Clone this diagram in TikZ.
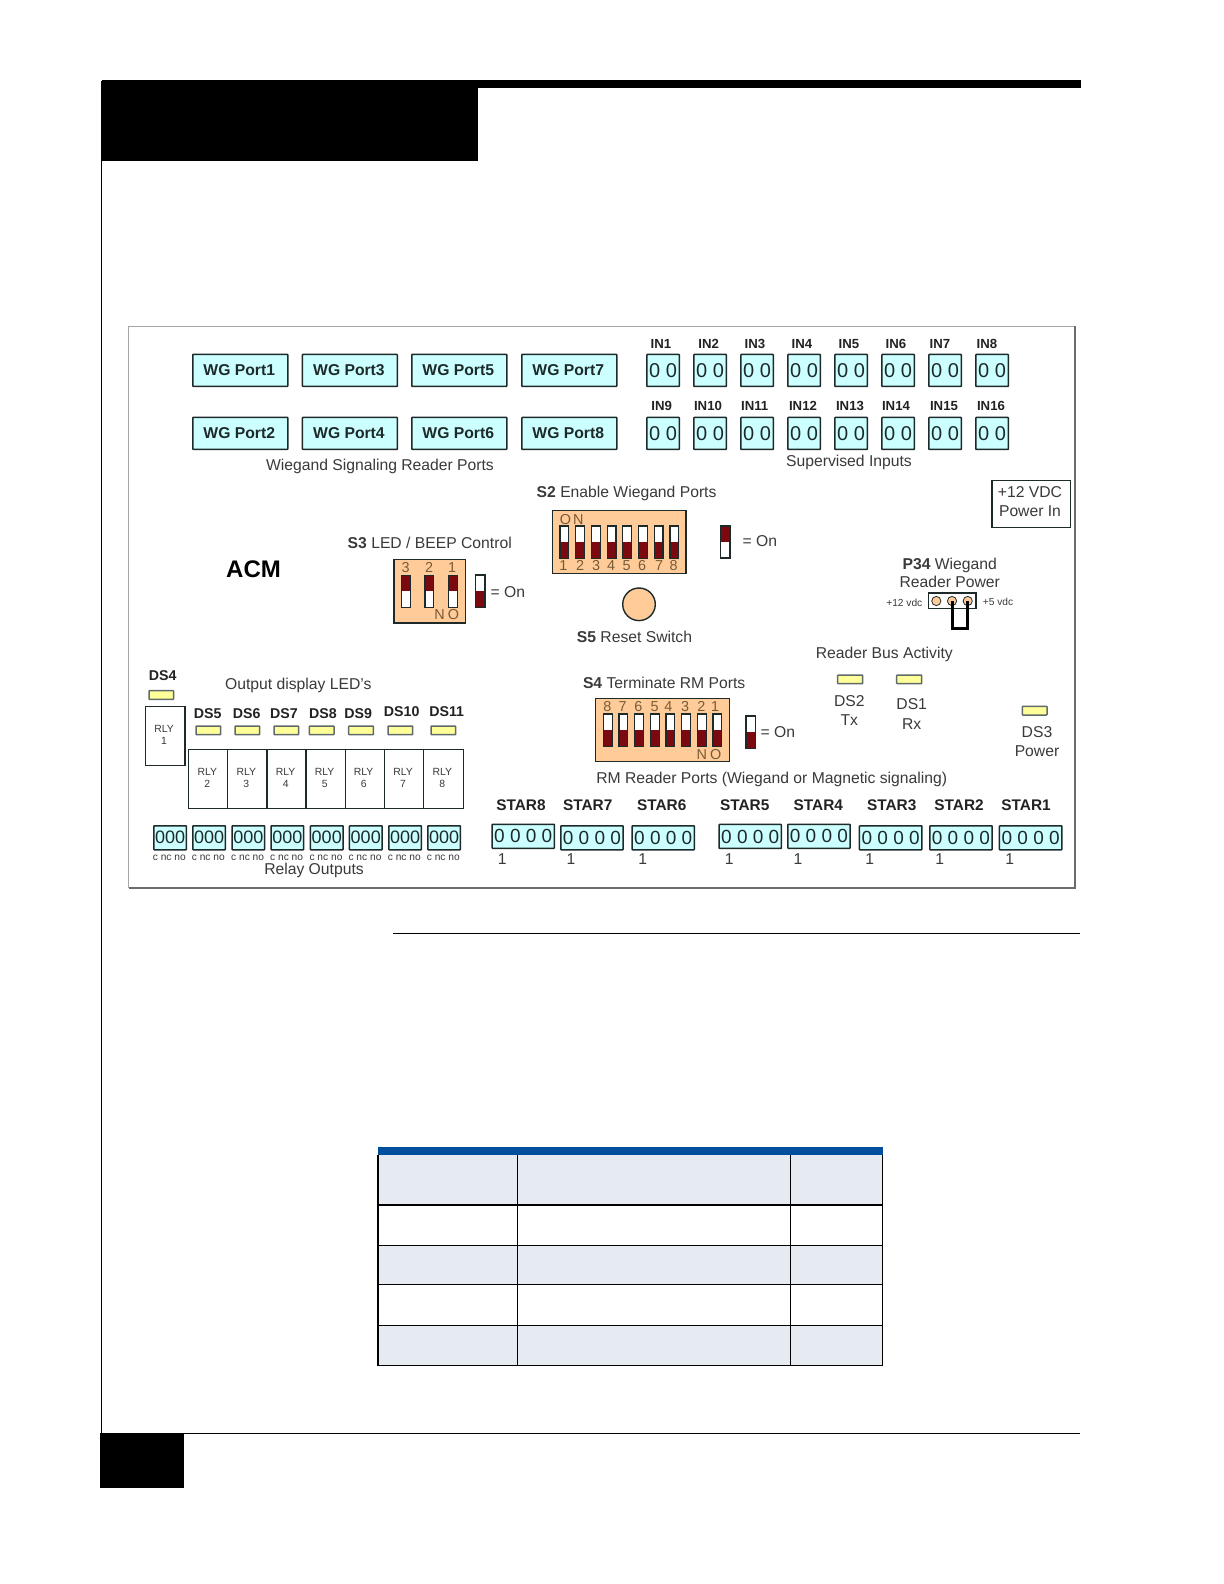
\documentclass[tikz,border=0pt]{standalone}
\usepackage{fontspec}
\setmainfont{Liberation Sans}
\definecolor{cyanbox}{HTML}{CCFFFF}
\definecolor{orangebox}{HTML}{FFCC99}
\definecolor{darkred}{HTML}{7A0A10}
\definecolor{ledfill}{HTML}{FFFF99}
\definecolor{inktxt}{HTML}{3A3A3A}
\definecolor{boldtxt}{HTML}{222222}
\definecolor{numtxt}{HTML}{7A5A35}
\definecolor{edge}{HTML}{1E2A2A}
\definecolor{tblblue}{HTML}{004F9F}
\definecolor{tbllight}{HTML}{E6EBF2}
\newcommand{\fs}[1]{\fontsize{#1}{#1}\selectfont}
\tikzset{
  x=0.5pt,y=-0.5pt,
  txt/.style={inner sep=0pt,outer sep=0pt,text=inktxt,text height=5.7pt,text depth=0pt,font=\fs{7.85}},
  boldlab/.style={txt,text=boldtxt,font=\fs{7.1}\bfseries,text height=5.1pt},
  starlab/.style={txt,text=boldtxt,font=\fs{7.7}\bfseries,text height=5.5pt},
  inlab/.style={txt,text=boldtxt,font=\fs{6.6}\bfseries,text height=4.8pt},
  tiny/.style={txt,font=\fs{5.1},text height=3.7pt},
  rly/.style={txt,font=\fs{5.2},text height=3.7pt},
  num/.style={txt,text=numtxt,font=\fs{7.2},text height=5.2pt},
  cbox/.style={draw=edge,line width=.75pt,fill=cyanbox,inner sep=0pt,rounded corners=.3pt,text=edge},
  wbox/.style={draw=edge,line width=.7pt,fill=white},
  obox/.style={draw=edge,line width=.75pt,fill=orangebox},
  ledbox/.style={draw=edge!70,line width=.75pt,fill=ledfill,rounded corners=.3pt},
  tog/.style={draw=edge,line width=.6pt,fill=white},
  redpart/.style={fill=darkred},
  tbl/.style={line width=.6pt,black},
}
\newcommand{\togbot}[4]{\draw[tog] (#1,#2) rectangle (#3,#4);\fill[redpart] (#1,{(#2+#4)/2}) rectangle (#3,#4);\draw[edge,line width=.6pt] (#1,#2) rectangle (#3,#4);}
\newcommand{\togtop}[4]{\draw[tog] (#1,#2) rectangle (#3,#4);\fill[redpart] (#1,#2) rectangle (#3,{(#2+#4)/2});\draw[edge,line width=.6pt] (#1,#2) rectangle (#3,#4);}
\begin{document}
\begin{tikzpicture}
\useasboundingbox (0,0) rectangle (1224,1584);
\fill[white] (0,0) rectangle (1224,1584);
% page chrome
\fill[black] (102,80) rectangle (1081,87.7);
\fill[black] (102,80) rectangle (478,161);
\draw[black,line width=.5pt] (101,81) -- (101,1488);
\draw[black,line width=.6pt] (100,1433.3) -- (1080,1433.3);
\fill[black] (100,1433) rectangle (184,1488.3);
\draw[black,line width=.6pt] (393,933.3) -- (1080,933.3);
% frame
\draw[gray!70,line width=.5pt] (128.5,888) -- (128.5,326.3) -- (1075.2,326.3);
\draw[gray!85!black,line width=.75pt] (128.5,888) -- (1075.2,888) -- (1075.2,326.3);
% WG ports
\foreach \x/\n/\m in {192/1/2,301.7/3/4,411/5/6,521/7/8}{
  \node[cbox,minimum width=47.5pt,minimum height=16pt,font=\fs{7.85}\bfseries,anchor=north west] (wg\n) at (\x,353.7) {WG Port\n\kern1pt};
  \node[cbox,minimum width=47.5pt,minimum height=16pt,font=\fs{7.85}\bfseries,anchor=north west] (wg\m) at (\x,416.7) {WG Port\m\kern1pt};
}
\node[txt] (wglabel) at (380,464.7) {Wiegand Signaling Reader Ports};
% supervised inputs
\foreach \i/\x/\lx in {1/646/661,2/693/708.7,3/740/755,4/787/802,5/834/849,6/881/896,7/928/940,8/975/987}{
  \node[cbox,minimum width=16.3pt,minimum height=16pt,font=\fs{10},anchor=north west] (inb\i) at (\x,353.7) {0 0};
  \node[inlab] (inl\i) at (\lx,343.5) {IN\i};
}
\foreach \i/\x/\lx in {9/646/661.7,10/693/708,11/740/754.7,12/787/803,13/834/850,14/881/896,15/928/944,16/975/991}{
  \node[cbox,minimum width=16.3pt,minimum height=16pt,font=\fs{10},anchor=north west] (inb\i) at (\x,416.7) {0 0};
  \node[inlab] (inl\i) at (\lx,406) {IN\i};
}
\node[txt] (suplabel) at (849,461) {Supervised Inputs};
% power in
\node[draw=edge,line width=.75pt,fill=white,minimum width=39.3pt,minimum height=23.7pt,inner sep=0pt,anchor=north west] (pwr) at (991,479.5) {};
\node[txt] (pwr1) at (1030,492) {+12 VDC};
\node[txt] (pwr2) at (1030,511) {Power In};
% S2
\node[txt,anchor=west] (s2l) at (536.7,492) {\textbf{S2} Enable Wiegand Ports};
\draw[obox] (552.3,510.7) rectangle (686,573.7);
\foreach \i/\nx in {0/563.3,1/580,2/596,3/611,4/626.7,5/642,6/659,7/673.7}{
  \pgfmathsetmacro{\a}{560+15.7*\i}\pgfmathsetmacro{\b}{\a+8.8}
  \togbot{\a}{526}{\b}{558.3}
  \pgfmathtruncatemacro{\k}{\i+1}
  \node[num] (s2n\k) at (\nx,565) {\k};
}
\node[num] (s2on) at (571.7,519) {O\kern1pt N};
\togtop{720.7}{526}{730}{558}
\node[txt,anchor=west] (s2eq) at (742.7,541) {= On};
% S3
\node[txt,anchor=west] (s3l) at (347.7,542.7) {\textbf{S3} LED / BEEP Control};
\draw[obox] (394,559.3) rectangle (465.7,623);
\foreach \a/\nx/\n in {401.5/405.7/3,425/429/2,448.4/452/1}{
  \pgfmathsetmacro{\b}{\a+8.8}
  \togtop{\a}{575.3}{\b}{607.3}
  \node[num] (s3n\n) at (\nx,567) {\n};
}
\node[num] (s3no) at (446.7,614) {N\kern1.5pt O};
\togbot{475.7}{575}{485}{607.3}
\node[txt,anchor=west] (s3eq) at (490.7,592) {= On};
\node[txt,text=black,font=\fs{12}\bfseries,text height=8.6pt] (acm) at (253.5,569) {ACM};
% S5
\node[circle,draw=edge,line width=.7pt,fill=orangebox,minimum size=16.3pt,inner sep=0pt] (s5) at (639,604.3) {};
\node[txt] (s5l) at (634.5,636.5) {\textbf{S5} Reset Switch};
% P34
\node[txt] (p34a) at (949.7,563.3) {\textbf{P34} Wiegand};
\node[txt] (p34b) at (949.7,581.7) {Reader Power};
\node[draw=edge,line width=.6pt,fill=white,minimum width=23.8pt,minimum height=7.8pt,inner sep=0pt] (p34box) at (952.2,600.8) {};
\foreach \i/\x in {1/936.3,2/952,3/967.7}{
  \node[circle,draw=edge,line width=.4pt,fill=orangebox,minimum size=4.6pt,inner sep=0pt] (pin\i) at (\x,601) {};
}
\draw[black,line width=1.5pt] (pin2.center) -- (952,628) -- (967.7,628) -- (pin3.center);
\node[tiny] (p12) at (904.3,603) {+12 vdc};
\node[tiny] (p5) at (998,602) {+5 vdc};
% DS4 + RLY1
\node[boldlab] (ds4) at (162.7,675.7) {DS4};
\draw[ledbox] (149,690.7) rectangle (173.7,699.3);
\node[txt] (outl) at (298.3,683.7) {Output display LED's};
\draw[wbox] (145.3,706.3) rectangle (185,765.3);
\node[rly] (r1a) at (164,728.7) {RLY};
\node[rly] (r1b) at (164,741) {1};
% DS5-11
\foreach \n/\lx/\ly/\a in {5/207.7/713/196,6/246.7/713/235,7/284/713/274,8/323/713/309.3,9/358.3/713/348.7,10/401.7/711.3/388,11/446.7/711.3/431}{
  \node[boldlab] (ds\n) at (\lx,\ly) {DS\n};
  \pgfmathsetmacro{\b}{\a+24.7}
  \draw[ledbox] (\a,726) rectangle (\b,734.7);
}
% relays
\draw[wbox] (188.7,749.3) rectangle (463.3,808.3);
\foreach \x in {227.7,267,306,345.3,384.7,423.7}{ \draw[edge,line width=.7pt] (\x,749.3) -- (\x,808.3); }
\foreach \n/\x in {2/207.3,3/246.3,4/285.7,5/324.7,6/363.7,7/403,8/442.3}{
  \node[rly] (r\n a) at (\x,771.3) {RLY};
  \node[rly] (r\n b) at (\x,784) {\n};
}
% relay terminals
\foreach \i/\x in {1/153,2/192,3/231.3,4/270.3,5/309.7,6/348.7,7/388,8/427}{
  \node[cbox,minimum width=16.3pt,minimum height=12pt,font=\fs{9},anchor=north west] (rt\i) at (\x,825) {000};
  \pgfmathsetmacro{\cx}{\x+16.3}
  \node[tiny] (rc\i) at (\cx,856.5) {c nc no};
}
\node[txt] (relayl) at (314,868.3) {Relay Outputs};
% S4
\node[txt,anchor=west] (s4l) at (583,682.3) {\textbf{S4} Terminate RM Ports};
\draw[obox] (595.3,698.3) rectangle (729.7,761.7);
\foreach \i/\nx/\n in {0/607.3/8,1/622.7/7,2/638.3/6,3/654.7/5,4/668.3/4,5/685/3,6/701.3/2,7/715/1}{
  \pgfmathsetmacro{\a}{603.3+15.67*\i}\pgfmathsetmacro{\b}{\a+8.8}
  \togbot{\a}{714}{\b}{746.3}
  \node[num] (s4n\n) at (\nx,706.7) {\n};
}
\node[num] (s4no) at (709,754.3) {N\kern1.5pt O};
\togbot{746}{716}{755.3}{748.3}
\node[txt,anchor=west] (s4eq) at (760.7,731.3) {= On};
% reader bus
\node[txt] (rba) at (884.3,652.7) {Reader Bus Activity};
\draw[ledbox] (837.7,675) rectangle (862.7,683.7);
\draw[ledbox] (896.7,675) rectangle (921.7,683.7);
\node[txt] (ds2) at (849.3,700.7) {DS2};
\node[txt] (tx) at (849.3,720) {Tx};
\node[txt] (ds1) at (911.7,704) {DS1};
\node[txt] (rx) at (911.7,723.3) {Rx};
\draw[ledbox] (1022.3,706.3) rectangle (1047,715);
\node[txt] (ds3) at (1037,731.7) {DS3};
\node[txt] (pw) at (1037,751) {Power};
\node[txt] (rml) at (771.7,777.7) {RM Reader Ports (Wiegand or Magnetic signaling)};
% stars
\foreach \n/\lx/\bx/\by/\ox in {8/521/491.3/823.5/502.3,7/587.7/560/825/571,6/661.7/631.3/825/642.7,5/744.7/718.3/823.7/729.3,4/818.3/787/823.5/798,3/891.7/858.7/825/869.7,2/959/929/825/939.7,1/1026/998.7/825/1009.7}{
  \node[starlab] (sl\n) at (\lx,805) {STAR\n};
  \node[cbox,minimum width=31.2pt,minimum height=12pt,font=\fs{9.5},anchor=north west] (sb\n) at (\bx,\by) {0 0 0 0};
  \node[txt] (so\n) at (\ox,858.3) {1};
}
% table
\fill[tbllight] (378,1155) rectangle (882.7,1204.7);
\fill[tbllight] (378,1245.3) rectangle (882.7,1284.3);
\fill[tbllight] (378,1325.3) rectangle (882.7,1365.3);
\fill[tblblue] (378,1147) rectangle (883,1155);
\draw[tbl] (378,1155) -- (378,1365.3) -- (882.7,1365.3) -- (882.7,1155);
\draw[tbl] (517.5,1155) -- (517.5,1365.3);
\draw[tbl] (790.5,1155) -- (790.5,1365.3);
\draw[black,line width=.9pt] (378,1204.7) -- (882.7,1204.7);
\draw[tbl] (378,1245.3) -- (882.7,1245.3);
\draw[tbl] (378,1284.3) -- (882.7,1284.3);
\draw[tbl] (378,1325.3) -- (882.7,1325.3);
\end{tikzpicture}
\end{document}
